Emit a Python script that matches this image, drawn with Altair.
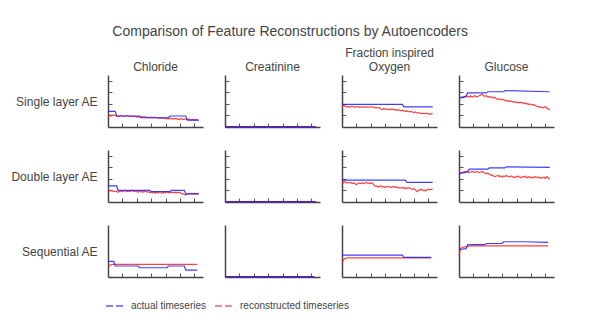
import altair as alt
import pandas as pd

# ---------------- data ----------------
MODELS = ["Single layer AE", "Double layer AE", "Sequential AE"]
FEATURE_TITLES = [["Chloride"], ["Creatinine"], ["Fraction inspired", "Oxygen"], ["Glucose"]]
SERIES = ["actual timeseries", "reconstructed timeseries"]
X_TICKS = [10, 20, 30, 40, 50, 60]
Y_TICKS = [0.2, 0.4, 0.6, 0.8]
T = list(range(64))

# actual timeseries (blue): breakpoints (t, value)
single_chl_act_t = [0, 5, 6, 22, 23, 42, 43, 54, 55, 63]
single_chl_act_v = [0.27, 0.27, 0.19, 0.19, 0.16, 0.16, 0.19, 0.19, 0.12, 0.12]
single_cre_act_t = [0, 63]
single_cre_act_v = [0.005, 0.005]
single_fio_act_t = [0, 42, 43, 63]
single_fio_act_v = [0.39, 0.39, 0.35, 0.35]
single_glu_act_t = [0, 4, 5, 6, 19, 20, 31, 32, 63]
single_glu_act_v = [0.50, 0.52, 0.54, 0.59, 0.59, 0.61, 0.61, 0.63, 0.61]

double_chl_act_t = [0, 6, 7, 29, 30, 43, 44, 53, 54, 63]
double_chl_act_v = [0.28, 0.28, 0.20, 0.20, 0.18, 0.18, 0.20, 0.20, 0.14, 0.14]
double_cre_act_t = [0, 63]
double_cre_act_v = [0.005, 0.005]
double_fio_act_t = [0, 44, 45, 63]
double_fio_act_v = [0.38, 0.38, 0.34, 0.34]
double_glu_act_t = [0, 6, 7, 20, 21, 32, 33, 63]
double_glu_act_v = [0.49, 0.52, 0.57, 0.57, 0.59, 0.59, 0.61, 0.60]

seq_chl_act_t = [0, 4, 5, 21, 22, 41, 42, 53, 54, 62]
seq_chl_act_v = [0.27, 0.27, 0.19, 0.19, 0.16, 0.16, 0.19, 0.19, 0.12, 0.12]
seq_cre_act_t = [0, 62]
seq_cre_act_v = [0.005, 0.005]
seq_fio_act_t = [0, 42, 43, 62]
seq_fio_act_v = [0.38, 0.38, 0.34, 0.34]
seq_glu_act_t = [0, 1, 5, 6, 18, 19, 30, 31, 45, 62]
seq_glu_act_v = [0.47, 0.48, 0.49, 0.56, 0.56, 0.58, 0.58, 0.61, 0.61, 0.60]

# reconstructed timeseries (red)
single_chl_rec_v = [0.20, 0.21, 0.19, 0.20, 0.21, 0.20, 0.19, 0.18, 0.19, 0.20, 0.19, 0.18, 0.19, 0.20, 0.19, 0.18,
                    0.19, 0.18, 0.19, 0.18, 0.17, 0.18, 0.17, 0.18, 0.17, 0.18, 0.17, 0.16, 0.17, 0.16, 0.17, 0.16,
                    0.17, 0.16, 0.16, 0.15, 0.16, 0.15, 0.16, 0.15, 0.15, 0.14, 0.15, 0.14, 0.15, 0.14, 0.14, 0.15,
                    0.14, 0.13, 0.14, 0.14, 0.13, 0.14, 0.13, 0.13, 0.14, 0.13, 0.12, 0.13, 0.12, 0.13, 0.12, 0.12]
single_cre_rec_t = [0, 63]
single_cre_rec_v = [0.005, 0.005]
single_fio_rec_v = [0.34, 0.38, 0.36, 0.35, 0.36, 0.34, 0.35, 0.36, 0.35, 0.34, 0.35, 0.35, 0.34, 0.35, 0.34, 0.35,
                    0.35, 0.34, 0.35, 0.34, 0.35, 0.35, 0.34, 0.33, 0.34, 0.33, 0.34, 0.31, 0.30, 0.32, 0.31, 0.31,
                    0.30, 0.31, 0.30, 0.31, 0.30, 0.30, 0.29, 0.30, 0.29, 0.28, 0.29, 0.28, 0.27, 0.28, 0.27, 0.26,
                    0.27, 0.26, 0.25, 0.26, 0.24, 0.25, 0.24, 0.23, 0.24, 0.23, 0.24, 0.23, 0.23, 0.22, 0.23, 0.23]
single_glu_rec_v = [0.50, 0.51, 0.52, 0.51, 0.53, 0.52, 0.53, 0.52, 0.54, 0.52, 0.53, 0.54, 0.52, 0.53, 0.54, 0.55,
                    0.57, 0.54, 0.53, 0.54, 0.52, 0.53, 0.51, 0.52, 0.50, 0.51, 0.49, 0.48, 0.49, 0.47, 0.48, 0.47,
                    0.46, 0.45, 0.46, 0.44, 0.45, 0.44, 0.43, 0.44, 0.42, 0.43, 0.42, 0.43, 0.41, 0.42, 0.40, 0.41,
                    0.39, 0.40, 0.39, 0.38, 0.39, 0.37, 0.36, 0.35, 0.34, 0.35, 0.33, 0.34, 0.35, 0.33, 0.31, 0.29]

double_chl_rec_v = [0.20, 0.19, 0.20, 0.19, 0.18, 0.19, 0.18, 0.17, 0.18, 0.19, 0.18, 0.19, 0.20, 0.18, 0.19, 0.18,
                    0.19, 0.20, 0.18, 0.19, 0.18, 0.17, 0.19, 0.18, 0.17, 0.18, 0.19, 0.17, 0.18, 0.16, 0.17, 0.16,
                    0.18, 0.15, 0.17, 0.16, 0.18, 0.16, 0.15, 0.17, 0.16, 0.18, 0.16, 0.17, 0.16, 0.17, 0.16, 0.17,
                    0.16, 0.17, 0.16, 0.15, 0.14, 0.13, 0.12, 0.14, 0.15, 0.14, 0.15, 0.14, 0.15, 0.14, 0.15, 0.14]
double_cre_rec_t = [0, 63]
double_cre_rec_v = [0.005, 0.005]
double_fio_rec_v = [0.30, 0.34, 0.35, 0.33, 0.34, 0.33, 0.34, 0.32, 0.33, 0.32, 0.30, 0.32, 0.33, 0.32, 0.33, 0.32,
                    0.33, 0.34, 0.32, 0.33, 0.32, 0.33, 0.30, 0.27, 0.28, 0.26, 0.27, 0.28, 0.26, 0.27, 0.25, 0.27,
                    0.26, 0.27, 0.25, 0.26, 0.27, 0.25, 0.26, 0.25, 0.24, 0.25, 0.24, 0.25, 0.23, 0.24, 0.25, 0.24,
                    0.23, 0.22, 0.23, 0.21, 0.18, 0.20, 0.21, 0.22, 0.20, 0.21, 0.19, 0.21, 0.22, 0.21, 0.22, 0.22]
double_glu_rec_v = [0.49, 0.50, 0.51, 0.52, 0.53, 0.52, 0.53, 0.51, 0.52, 0.53, 0.52, 0.51, 0.53, 0.52, 0.51, 0.52,
                    0.53, 0.51, 0.50, 0.49, 0.50, 0.48, 0.47, 0.46, 0.45, 0.44, 0.45, 0.46, 0.44, 0.45, 0.43, 0.45,
                    0.44, 0.46, 0.44, 0.43, 0.45, 0.44, 0.42, 0.44, 0.43, 0.45, 0.43, 0.42, 0.44, 0.43, 0.45, 0.42,
                    0.43, 0.44, 0.42, 0.43, 0.42, 0.44, 0.43, 0.42, 0.43, 0.41, 0.42, 0.43, 0.41, 0.44, 0.42, 0.39]

seq_chl_rec_t = [0, 1, 2, 3, 62]
seq_chl_rec_v = [0.18, 0.20, 0.21, 0.22, 0.22]
seq_cre_rec_t = [0, 62]
seq_cre_rec_v = [0.005, 0.005]
seq_fio_rec_t = [0, 1, 2, 4, 62]
seq_fio_rec_v = [0.25, 0.30, 0.32, 0.33, 0.33]
seq_glu_rec_t = [0, 1, 2, 4, 6, 8, 62]
seq_glu_rec_v = [0.38, 0.48, 0.51, 0.52, 0.53, 0.54, 0.54]

# ---------------- layout / style ----------------
W, H = 95, 52
FONT = "Liberation Sans"
TEXT = "#444444"
BLUE = "#1f1fff"
RED = "#ff2020"

panels_data = [
    [(single_chl_act_t, single_chl_act_v, T, single_chl_rec_v),
     (single_cre_act_t, single_cre_act_v, single_cre_rec_t, single_cre_rec_v),
     (single_fio_act_t, single_fio_act_v, T, single_fio_rec_v),
     (single_glu_act_t, single_glu_act_v, T, single_glu_rec_v)],
    [(double_chl_act_t, double_chl_act_v, T, double_chl_rec_v),
     (double_cre_act_t, double_cre_act_v, double_cre_rec_t, double_cre_rec_v),
     (double_fio_act_t, double_fio_act_v, T, double_fio_rec_v),
     (double_glu_act_t, double_glu_act_v, T, double_glu_rec_v)],
    [(seq_chl_act_t, seq_chl_act_v, seq_chl_rec_t, seq_chl_rec_v),
     (seq_cre_act_t, seq_cre_act_v, seq_cre_rec_t, seq_cre_rec_v),
     (seq_fio_act_t, seq_fio_act_v, seq_fio_rec_t, seq_fio_rec_v),
     (seq_glu_act_t, seq_glu_act_v, seq_glu_rec_t, seq_glu_rec_v)],
]

color = alt.Color(
    "series:N",
    scale=alt.Scale(domain=SERIES, range=[BLUE, RED]),
    legend=alt.Legend(
        title=None, orient="none", legendX=-3, legendY=221, direction="horizontal",
        symbolType="stroke", symbolStrokeWidth=2, symbolDash=[7, 3], symbolSize=324,
        symbolOpacity=0.55, labelFont=FONT, labelFontSize=10, labelColor=TEXT,
        labelOffset=6, columnPadding=4,
    ),
)


def make_panel(r, c, act_t, act_v, rec_t, rec_v):
    df_act = pd.DataFrame({"t": act_t, "v": act_v, "series": SERIES[0]})
    df_rec = pd.DataFrame({"t": rec_t, "v": rec_v, "series": SERIES[1]})
    x = alt.X("t:Q", scale=alt.Scale(domain=[0, 66], nice=False, zero=False),
              axis=alt.Axis(orient="top", offset=-H, values=X_TICKS, labels=False, title=None))
    yaxis_kwargs = dict(orient="right", offset=-W, values=Y_TICKS, labels=False)
    if r == 2:
        yaxis_kwargs["tickOpacity"] = 0
    if c == 0:
        yaxis_kwargs.update(title=MODELS[r], titleAngle=0, titleAlign="right", titleBaseline="middle",
                            titleX=-11, titleY=H / 2, titleFont=FONT, titleFontSize=12,
                            titleFontWeight="normal", titleColor=TEXT)
    else:
        yaxis_kwargs["title"] = None
    y = alt.Y("v:Q", scale=alt.Scale(domain=[0, 0.9], nice=False), axis=alt.Axis(**yaxis_kwargs))
    rec = alt.Chart(df_rec).mark_line(strokeWidth=1.2, opacity=0.85).encode(x=x, y=y, color=color)
    act = alt.Chart(df_act).mark_line(strokeWidth=1.2, opacity=0.85).encode(x=x, y=y, color=color)
    props = dict(width=W, height=H)
    if r == 0:
        props["title"] = alt.TitleParams(FEATURE_TITLES[c], font=FONT, fontSize=12, fontWeight="normal",
                                         color=TEXT, baseline="bottom", offset=-11, lineHeight=14,
                                         anchor="middle")
    return alt.layer(rec, act).properties(**props)


panels = [make_panel(r, c, *panels_data[r][c]) for r in range(3) for c in range(4)]

chart = alt.concat(*panels, columns=4, spacing=alt.RowColnumber(row=23, column=22)).properties(
    bounds="flush",
    padding={"top": 17, "left": 2, "right": 5, "bottom": 5},
    title=alt.TitleParams("Comparison of Feature Reconstructions by Autoencoders", font=FONT,
                          fontSize=14, fontWeight="normal", color=TEXT, anchor="middle", offset=8, dx=8),
).resolve_scale(color="shared").configure_view(stroke=None).configure_axis(
    grid=False, domainColor="#444444", domainWidth=1.5, tickColor="#555555", tickSize=4, tickWidth=1,
)

chart.save("out.html", embed_options={"renderer": "svg", "actions": False})
